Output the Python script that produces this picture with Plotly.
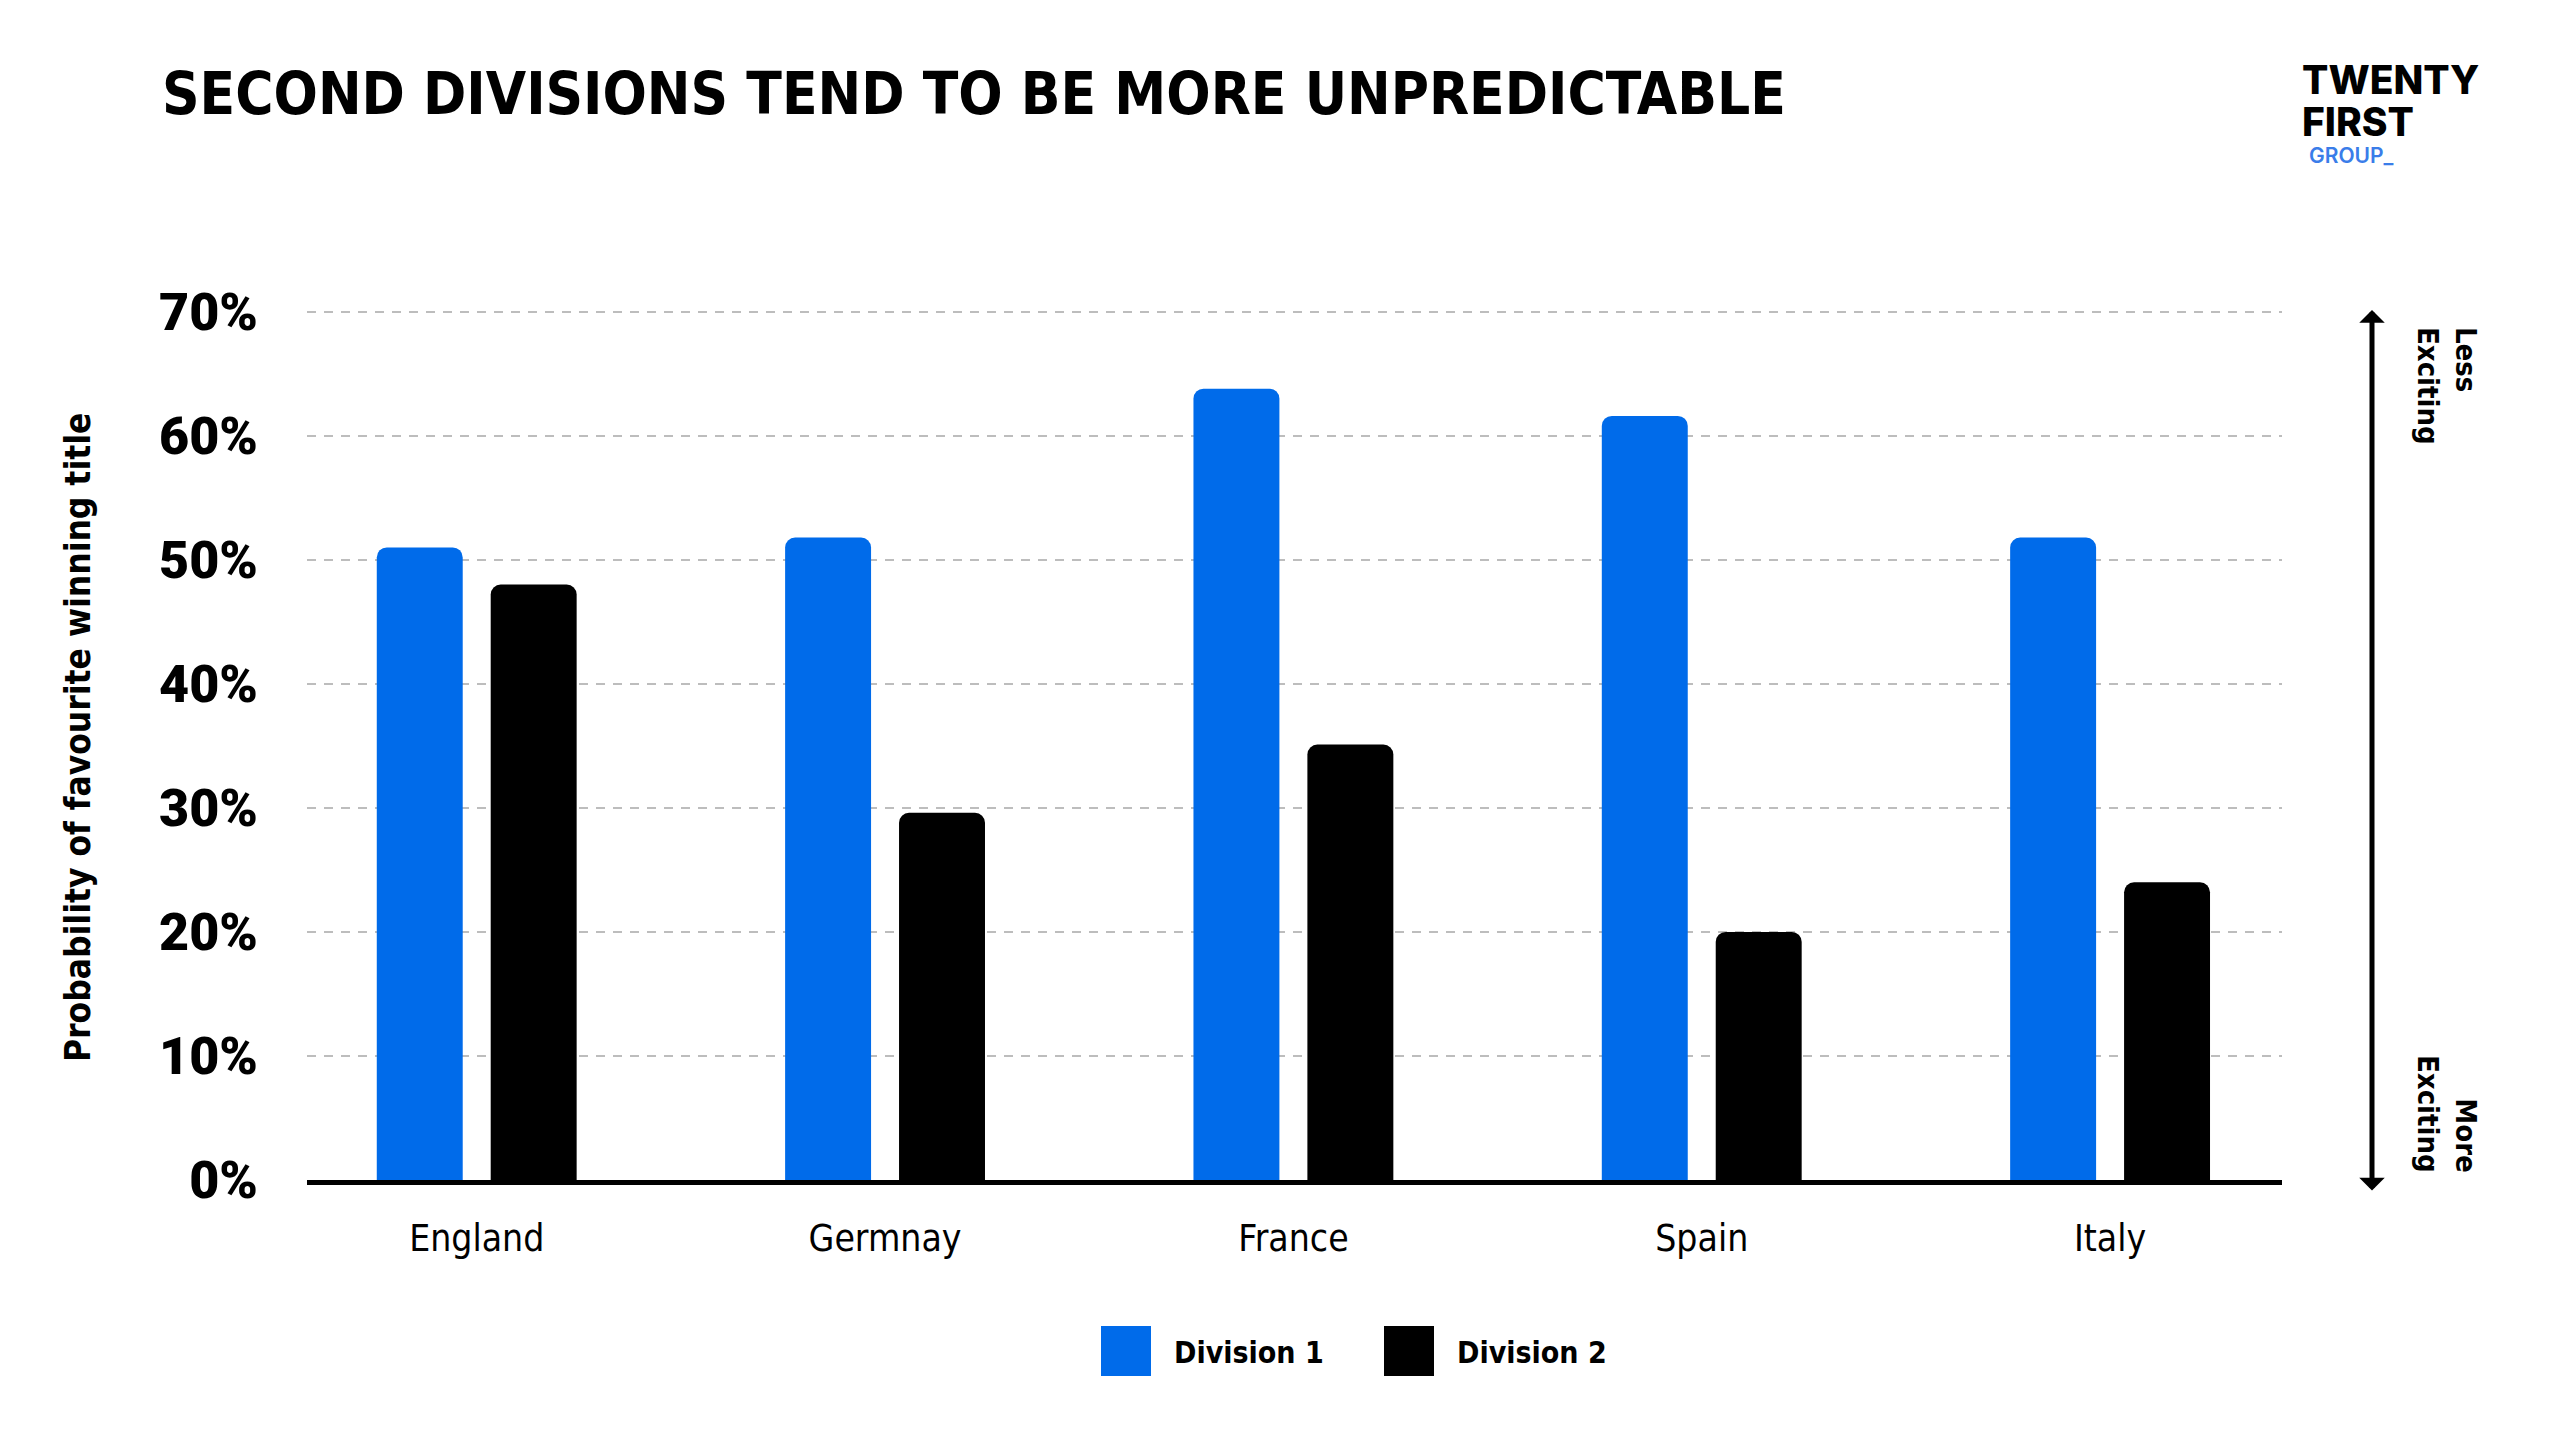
import plotly.graph_objects as go

# ---------------- data ----------------
countries = ["England", "Germnay", "France", "Spain", "Italy"]
division_1 = [51.0, 51.8, 63.8, 61.6, 51.8]
division_2 = [48.0, 29.6, 35.1, 20.0, 24.0]
series_names = ["Division 1", "Division 2"]
y_ticks = [0, 10, 20, 30, 40, 50, 60, 70]
y_tick_labels = ["0%", "10%", "20%", "30%", "40%", "50%", "60%", "70%"]

# ---------------- style ----------------
OFF = 8  # default page body margin
W, H = 2560 - 2 * OFF, 1443 - 2 * OFF
# plot area in page pixels
PX0, PX1, PY0, PY1 = 307, 2282, 308, 1180
L, T = PX0 - OFF, PY0 - OFF
R, B = W - (PX1 - OFF), H - (PY1 - OFF)
PW, PH = W - L - R, H - T - B
BLUE = "#006BEA"
BLACK = "#000000"
NARROW = "DejaVu Sans Condensed, Liberation Sans Narrow, sans-serif"
HEAVY = "Roboto, Arial Black, sans-serif"
LOGO = "Inter, Lato, sans-serif"


def px_x(px):
    return (px - OFF - L) / PW


def px_y(py):
    return 1 - (py - OFF - T) / PH


fig = go.Figure()
for name, vals, col in [(series_names[0], division_1, BLUE), (series_names[1], division_2, BLACK)]:
    fig.add_trace(go.Bar(
        x=countries, y=vals, name=name,
        marker=dict(color=col, line=dict(width=0), cornerradius=10),
        showlegend=False,
    ))

fig.update_layout(
    width=W, height=H,
    margin=dict(l=L, r=R, t=T, b=B, pad=0),
    paper_bgcolor="white", plot_bgcolor="white",
    barmode="group", bargap=0.442, bargroupgap=0.2456,
    showlegend=False,
    font=dict(family=NARROW, color=BLACK),
)

fig.update_xaxes(
    type="category",
    range=[-0.4156, 4.421],
    showgrid=False, zeroline=False,
    showline=True, linecolor=BLACK, linewidth=5,
    ticks="", ticklabelstandoff=22,
    tickfont=dict(family=NARROW, size=37, color=BLACK),
)
fig.update_yaxes(
    range=[0, 70.3], tickmode="array", tickvals=y_ticks, ticktext=y_tick_labels,
    showgrid=True, gridcolor="#BDBDBD", gridwidth=2, griddash="9px,8px",
    zeroline=False, showline=False, ticks="",
    ticklabelstandoff=48,
    tickfont=dict(family=HEAVY, size=52, color=BLACK, weight=900),
)

ann = []
# title
ann.append(dict(
    text="SECOND DIVISIONS TEND TO BE MORE UNPREDICTABLE",
    x=px_x(160), y=px_y(58), xref="paper", yref="paper",
    xanchor="left", yanchor="top", showarrow=False,
    font=dict(family=NARROW, size=58, color=BLACK, weight="bold"),
))
# y-axis title
ann.append(dict(
    text="Probability of favourite winning title",
    x=px_x(78), y=px_y(738), xref="paper", yref="paper",
    xanchor="center", yanchor="middle", textangle=-90, showarrow=False,
    font=dict(family=NARROW, size=35, color=BLACK, weight="bold"),
))
# double arrow
ann.append(dict(
    text="", x=px_x(2372), y=px_y(310), xref="paper", yref="paper",
    ax=0, ay=882, axref="pixel", ayref="pixel",
    showarrow=True, arrowside="end+start", arrowhead=1, arrowsize=0.85,
    arrowwidth=5, arrowcolor=BLACK, startstandoff=0, standoff=0,
))
ann.append(dict(
    text="Less<br>Exciting", x=px_x(2447), y=px_y(325), xref="paper", yref="paper",
    xanchor="center", yanchor="top", textangle=90, align="left", showarrow=False,
    font=dict(family=NARROW, size=29, color=BLACK, weight="bold"),
))
ann.append(dict(
    text="More<br>Exciting", x=px_x(2447), y=px_y(1175), xref="paper", yref="paper",
    xanchor="center", yanchor="bottom", textangle=90, align="right", showarrow=False,
    font=dict(family=NARROW, size=29, color=BLACK, weight="bold"),
))
# logo
ann.append(dict(
    text="TWENTY", x=px_x(2300), y=px_y(54), xref="paper", yref="paper",
    xanchor="left", yanchor="top", showarrow=False,
    font=dict(family=LOGO, size=39, color=BLACK, weight=800),
))
ann.append(dict(
    text="FIRST", x=px_x(2300), y=px_y(96), xref="paper", yref="paper",
    xanchor="left", yanchor="top", showarrow=False,
    font=dict(family=LOGO, size=39, color=BLACK, weight=800),
))
ann.append(dict(
    text="GROUP_", x=px_x(2307), y=px_y(141), xref="paper", yref="paper",
    xanchor="left", yanchor="top", showarrow=False,
    font=dict(family=LOGO, size=21, color="#3A7DE9", weight=600),
))

# custom legend
shapes = []
leg = [(series_names[0], BLUE, 1101, 1172), (series_names[1], BLACK, 1384, 1455)]
for name, col, sx, tx in leg:
    shapes.append(dict(
        type="rect", xref="paper", yref="paper",
        x0=px_x(sx), x1=px_x(sx + 50), y0=px_y(1326), y1=px_y(1376),
        fillcolor=col, line=dict(width=0),
    ))
    ann.append(dict(
        text=name, x=px_x(tx), y=px_y(1352), xref="paper", yref="paper",
        xanchor="left", yanchor="middle", showarrow=False,
        font=dict(family=NARROW, size=30, color=BLACK, weight="bold"),
    ))

fig.update_layout(annotations=ann, shapes=shapes)

fig.write_html("out.html")
